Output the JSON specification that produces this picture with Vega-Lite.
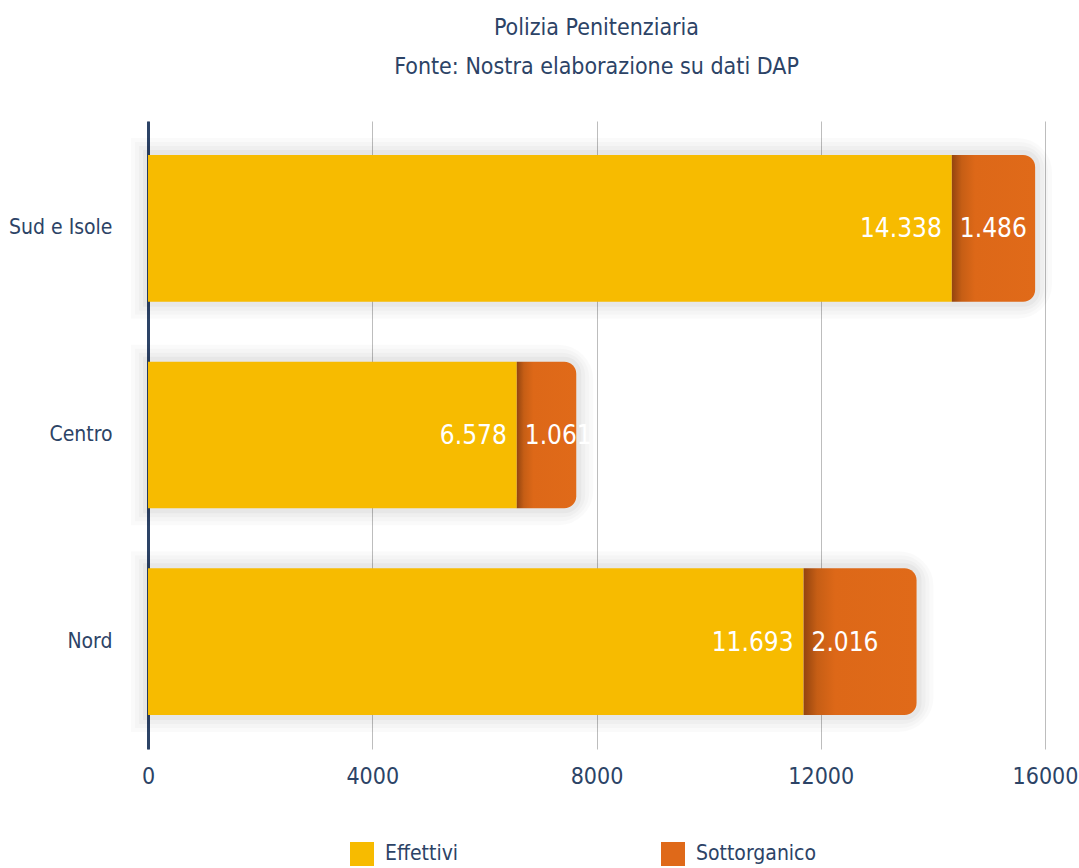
{
  "$schema": "https://vega.github.io/schema/vega-lite/v6.json",
  "autosize": "none",
  "padding": {"left": 148, "top": 121, "right": 34, "bottom": 119},
  "width": 897,
  "height": 628,
  "background": "white",
  "config": {
    "font": "DejaVu Sans Condensed, Roboto, sans-serif",
    "view": {"stroke": null},
    "locale": {"number": {"decimal": ",", "thousands": ".", "grouping": [3], "currency": ["€", ""]}}
  },
  "title": {
    "text": ["Polizia Penitenziaria", "Fonte: Nostra elaborazione su dati DAP"],
    "fontSize": 23,
    "fontWeight": "normal",
    "color": "#2C4366",
    "lineHeight": 39,
    "anchor": "middle",
    "offset": 42
  },
  "data": {
    "values": [
      {"regione": "Sud e Isole", "serie": "Effettivi", "ordine": 1, "valore": 14338},
      {"regione": "Sud e Isole", "serie": "Sottorganico", "ordine": 2, "valore": 1486},
      {"regione": "Centro", "serie": "Effettivi", "ordine": 1, "valore": 6578},
      {"regione": "Centro", "serie": "Sottorganico", "ordine": 2, "valore": 1061},
      {"regione": "Nord", "serie": "Effettivi", "ordine": 1, "valore": 11693},
      {"regione": "Nord", "serie": "Sottorganico", "ordine": 2, "valore": 2016}
    ]
  },
  "transform": [
    {"stack": "valore", "groupby": ["regione"], "sort": [{"field": "ordine", "order": "ascending"}], "as": ["x0", "x1"]}
  ],
  "encoding": {
    "y": {
      "field": "regione",
      "type": "nominal",
      "sort": ["Sud e Isole", "Centro", "Nord"],
      "scale": {"paddingInner": 0.29, "paddingOuter": 0.165},
      "axis": {
        "title": null,
        "domain": true,
        "domainColor": "#2C4366",
        "domainWidth": 3,
        "ticks": false,
        "labelFontSize": 21,
        "labelColor": "#2C4366",
        "labelPadding": 36,
        "grid": false
      }
    }
  },
  "layer": [
    {
      "mark": {"type": "bar", "fillOpacity": 0, "stroke": "black", "strokeWidth": 34, "strokeOpacity": 0.018, "cornerRadiusTopRight": 18, "cornerRadiusBottomRight": 18},
      "transform": [{"filter": "datum.serie === 'Sottorganico'"}],
      "encoding": {
        "x": {
          "field": "x1",
          "type": "quantitative",
          "scale": {"domain": [0, 16000], "nice": false},
          "axis": {
            "title": null,
            "values": [0, 4000, 8000, 12000, 16000],
            "format": "d",
            "domain": false,
            "ticks": false,
            "grid": true,
            "gridColor": "#BDBDBD",
            "gridWidth": 1,
            "labelFontSize": 23,
            "labelColor": "#2C4366",
            "labelPadding": 16,
            "labelFlush": false
          }
        },
        "x2": {"datum": 0}
      }
    },
    {
      "mark": {"type": "bar", "fillOpacity": 0, "stroke": "black", "strokeWidth": 26, "strokeOpacity": 0.02, "cornerRadiusTopRight": 16, "cornerRadiusBottomRight": 16},
      "transform": [{"filter": "datum.serie === 'Sottorganico'"}],
      "encoding": {
        "x": {"field": "x1", "type": "quantitative"},
        "x2": {"datum": 0}
      }
    },
    {
      "mark": {"type": "bar", "fillOpacity": 0, "stroke": "black", "strokeWidth": 18, "strokeOpacity": 0.025, "cornerRadiusTopRight": 14, "cornerRadiusBottomRight": 14},
      "transform": [{"filter": "datum.serie === 'Sottorganico'"}],
      "encoding": {
        "x": {"field": "x1", "type": "quantitative"},
        "x2": {"datum": 0}
      }
    },
    {
      "mark": {"type": "bar", "fillOpacity": 0, "stroke": "black", "strokeWidth": 10, "strokeOpacity": 0.03, "cornerRadiusTopRight": 12, "cornerRadiusBottomRight": 12},
      "transform": [{"filter": "datum.serie === 'Sottorganico'"}],
      "encoding": {
        "x": {"field": "x1", "type": "quantitative"},
        "x2": {"datum": 0}
      }
    },
    {
      "mark": {"type": "bar"},
      "transform": [{"filter": "datum.serie === 'Effettivi'"}],
      "encoding": {
        "x": {"field": "x0", "type": "quantitative"},
        "x2": {"field": "x1"},
        "color": {
          "field": "serie",
          "type": "nominal",
          "scale": {"domain": ["Effettivi", "Sottorganico"], "range": ["#F7BB00", "#DF6919"]},
          "legend": {
            "title": null,
            "orient": "none",
            "direction": "horizontal",
            "legendX": 202,
            "legendY": 721,
            "padding": 0,
            "symbolType": "square",
            "symbolSize": 576,
            "symbolStrokeWidth": 0,
            "labelFontSize": 21,
            "labelColor": "#2C4366",
            "labelOffset": 11,
            "columnPadding": 202
          }
        }
      }
    },
    {
      "mark": {"type": "bar", "cornerRadiusTopRight": 12, "cornerRadiusBottomRight": 12, "color": {"gradient": "linear", "x1": 0, "x2": 1, "y1": 0, "y2": 0, "stops": [{"offset": 0, "color": "#93440F"}, {"offset": 0.12, "color": "#C65E15"}, {"offset": 0.28, "color": "#DD6818"}, {"offset": 1, "color": "#E06A19"}]}},
      "transform": [{"filter": "datum.serie === 'Sottorganico'"}],
      "encoding": {
        "x": {"field": "x0", "type": "quantitative"},
        "x2": {"field": "x1"}
      }
    },
    {
      "mark": {"type": "text", "align": "right", "baseline": "middle", "dx": -10, "dy": 1, "fontSize": 26, "color": "white"},
      "transform": [{"filter": "datum.serie === 'Effettivi'"}],
      "encoding": {
        "x": {"field": "x1", "type": "quantitative"},
        "text": {"field": "valore", "type": "quantitative", "format": ",d"}
      }
    },
    {
      "mark": {"type": "text", "align": "left", "baseline": "middle", "dx": 8, "dy": 1, "fontSize": 26, "color": "white"},
      "transform": [{"filter": "datum.serie === 'Sottorganico'"}],
      "encoding": {
        "x": {"field": "x0", "type": "quantitative"},
        "text": {"field": "valore", "type": "quantitative", "format": ",d"}
      }
    }
  ]
}
